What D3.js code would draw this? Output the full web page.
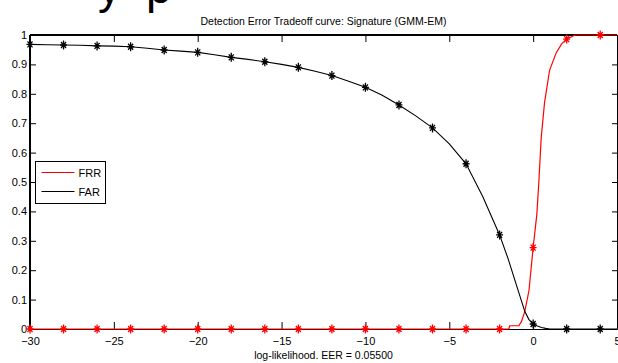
<!DOCTYPE html>
<html>
<head>
<meta charset="utf-8">
<script src="https://cdn.jsdelivr.net/npm/d3@7"></script>
<style>
  body { margin: 0; background: #fff; }
  svg { display: block; font-family: "Liberation Sans", Arial, sans-serif; }
  .tick text { font-size: 11px; fill: #000; }
</style>
</head>
<body>
<div id="chart"></div>
<script>
// marker positions (every 2 units of log-likelihood)
var markerX = [-30, -28, -26, -24, -22, -20, -18, -16, -14, -12, -10, -8, -6, -4, -2, 0, 2, 4];
var farMarkers = [0.968, 0.966, 0.963, 0.960, 0.949, 0.941, 0.924, 0.909, 0.890, 0.862, 0.822, 0.762, 0.684, 0.562, 0.320, 0.017, 0, 0];
var frrMarkers = [0, 0, 0, 0, 0, 0, 0, 0, 0, 0, 0, 0, 0, 0, 0, 0.277, 0.986, 1.0];

// curve samples
var farX = [-30, -29, -28, -27, -26, -25, -24, -23, -22, -21, -20, -19, -18, -17, -16, -15, -14, -13, -12, -11, -10, -9, -8, -7, -6, -5, -4, -3, -2, -1.5, -1, -0.5, -0.25, 0, 0.25, 0.5, 0.75, 1, 2, 3, 4, 5];
var farY = [0.968, 0.967, 0.966, 0.965, 0.963, 0.962, 0.960, 0.955, 0.949, 0.945, 0.941, 0.933, 0.924, 0.917, 0.909, 0.900, 0.890, 0.877, 0.862, 0.843, 0.822, 0.795, 0.762, 0.725, 0.684, 0.630, 0.562, 0.450, 0.320, 0.240, 0.150, 0.060, 0.032, 0.017, 0.010, 0.005, 0.002, 0, 0, 0, 0, 0];
var frrX = [-30, -1.45, -1.4, -0.85, -0.7, -0.5, -0.25, 0, 0.22, 0.34, 0.48, 0.68, 0.98, 1.38, 1.7, 2, 2.5, 5];
var frrY = [0, 0, 0.011, 0.011, 0.025, 0.059, 0.13, 0.277, 0.39, 0.50, 0.65, 0.77, 0.88, 0.94, 0.97, 0.986, 1, 1];

var xTicks = [-30, -25, -20, -15, -10, -5, 0, 5];
var yTicks = [0, 0.1, 0.2, 0.3, 0.4, 0.5, 0.6, 0.7, 0.8, 0.9, 1];

var svgWidth = 618;
var svgHeight = 363;

var margin = { top: 35, right: 1, bottom: 34, left: 30 };
var width = svgWidth - margin.left - margin.right;
var height = svgHeight - margin.top - margin.bottom;

var svg = d3.select("#chart").append("svg")
  .attr("width", svgWidth)
  .attr("height", svgHeight);

// cut-off big text at very top of the screenshot
svg.append("text").attr("x", 98).attr("y", 3).style("font-size", "46px").text("y");
svg.append("text").attr("x", 146).attr("y", 3).style("font-size", "46px").text("p");

var chartGroup = svg.append("g")
  .attr("transform", `translate(${margin.left}, ${margin.top})`);

var xScale = d3.scaleLinear().domain([-30, 5]).range([0, width]);
var yScale = d3.scaleLinear().domain([0, 1]).range([height, 0]);

// axes, MATLAB style: ticks inside, box all round
chartGroup.append("g")
  .attr("transform", `translate(0, ${height})`)
  .call(d3.axisBottom(xScale).tickValues(xTicks).tickSize(-7).tickSizeOuter(0).tickPadding(8)
    .tickFormat(d3.format("d")));

chartGroup.append("g")
  .call(d3.axisLeft(yScale).tickValues(yTicks).tickSize(-6).tickSizeOuter(0).tickPadding(3)
    .tickFormat(d => d === 0 || d === 1 ? d : d3.format(".1f")(d)));

chartGroup.append("g")
  .call(d3.axisTop(xScale).tickValues(xTicks).tickSize(-7).tickSizeOuter(0).tickFormat(""));

chartGroup.append("g")
  .attr("transform", `translate(${width}, 0)`)
  .call(d3.axisRight(yScale).tickValues(yTicks).tickSize(-5).tickSizeOuter(0).tickFormat(""));

chartGroup.selectAll(".domain").attr("stroke", "#000");
chartGroup.selectAll(".tick line").attr("stroke", "#000");

// thicker left and top box edges
chartGroup.append("line").attr("x1", 0).attr("x2", 0).attr("y1", 0).attr("y2", height)
  .attr("stroke", "#000").attr("stroke-width", 2);
chartGroup.append("line").attr("x1", 0).attr("x2", width).attr("y1", 0).attr("y2", 0)
  .attr("stroke", "#000").attr("stroke-width", 2);

var line = d3.line()
  .x(d => xScale(d[0]))
  .y(d => yScale(d[1]));

var frrData = frrX.map((x, i) => [x, frrY[i]]);
var farData = farX.map((x, i) => [x, farY[i]]);

chartGroup.append("path")
  .datum(frrData)
  .attr("fill", "none")
  .attr("stroke", "#ff0000")
  .attr("stroke-width", 1.2)
  .attr("d", line);

chartGroup.append("path")
  .datum(farData)
  .attr("fill", "none")
  .attr("stroke", "#000")
  .attr("stroke-width", 1.1)
  .attr("d", line);

var star = "M-3.5,0H3.5M0,-4.5V4.5M-2.5,-3L2.5,3M-2.5,3L2.5,-3";

chartGroup.selectAll(".frr-mark")
  .data(markerX.map((x, i) => [x, frrMarkers[i]]))
  .enter()
  .append("path")
  .attr("class", "frr-mark")
  .attr("transform", d => `translate(${xScale(d[0])}, ${yScale(d[1])})`)
  .attr("d", star)
  .attr("stroke", "#ff0000")
  .attr("stroke-width", 1.3)
  .attr("fill", "none");

chartGroup.selectAll(".far-mark")
  .data(markerX.map((x, i) => [x, farMarkers[i]]))
  .enter()
  .append("path")
  .attr("class", "far-mark")
  .attr("transform", d => `translate(${xScale(d[0])}, ${yScale(d[1])})`)
  .attr("d", star)
  .attr("stroke", "#000")
  .attr("stroke-width", 1.3)
  .attr("fill", "none");

// legend
var legend = svg.append("g").attr("transform", "translate(35.5, 161.5)");
legend.append("rect")
  .attr("width", 70)
  .attr("height", 42)
  .attr("fill", "#fff")
  .attr("stroke", "#000");

var legendItems = [["FRR", "#ff0000"], ["FAR", "#000"]];
legendItems.forEach(function(item, i) {
  var yy = 11 + i * 19;
  legend.append("line")
    .attr("x1", 6).attr("x2", 39).attr("y1", yy).attr("y2", yy)
    .attr("stroke", item[1]).attr("stroke-width", 1.2);
  legend.append("text")
    .attr("x", 43).attr("y", yy + 4)
    .style("font-size", "11px")
    .text(item[0]);
});

// title and x label
svg.append("text")
  .attr("x", margin.left + width / 2)
  .attr("y", 25)
  .attr("text-anchor", "middle")
  .style("font-size", "10.5px")
  .text("Detection Error Tradeoff curve: Signature (GMM-EM)");

svg.append("text")
  .attr("x", margin.left + width / 2)
  .attr("y", 359)
  .attr("text-anchor", "middle")
  .style("font-size", "10.5px")
  .text("log-likelihood. EER = 0.05500");
</script>
</body>
</html>
